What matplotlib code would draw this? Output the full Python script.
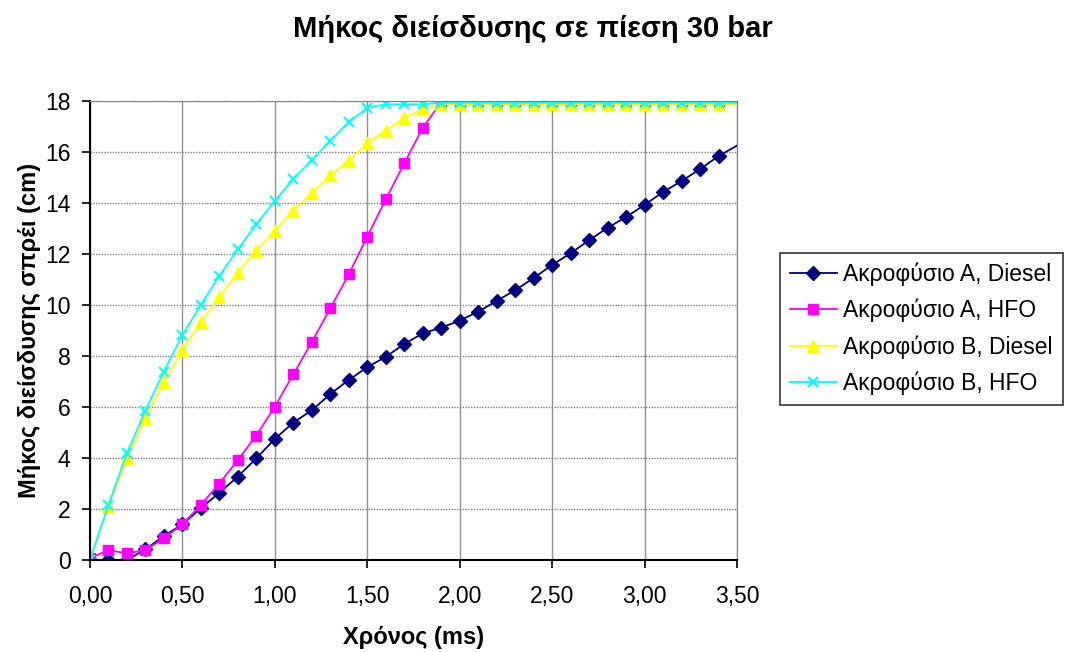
import matplotlib
matplotlib.use("Agg")
import matplotlib.pyplot as plt
from matplotlib.ticker import FuncFormatter

# time (ms), the data runs a little past the axis limit of 3.5
t = [0.0, 0.1, 0.2, 0.3, 0.4, 0.5, 0.6, 0.7, 0.8, 0.9,
     1.0, 1.1, 1.2, 1.3, 1.4, 1.5, 1.6, 1.7, 1.8, 1.9,
     2.0, 2.1, 2.2, 2.3, 2.4, 2.5, 2.6, 2.7, 2.8, 2.9,
     3.0, 3.1, 3.2, 3.3, 3.4, 3.5, 3.6]

a_diesel = [0.0, 0.0, 0.0, 0.42, 0.94, 1.40, 2.03, 2.64, 3.27, 3.99,
            4.75, 5.39, 5.87, 6.51, 7.06, 7.56, 7.97, 8.47, 8.89, 9.11,
            9.39, 9.74, 10.16, 10.58, 11.06, 11.57, 12.03, 12.54, 13.03, 13.45,
            13.93, 14.43, 14.86, 15.33, 15.84, 16.25, 16.65]
a_hfo = [0.07, 0.39, 0.26, 0.39, 0.85, 1.40, 2.16, 3.00, 3.92, 4.88,
         6.01, 7.28, 8.54, 9.87, 11.20, 12.68, 14.14, 15.55, 16.95, 17.95,
         17.97, 17.97, 18.0, 18.0, 18.0, 18.0, 18.0, 18.0, 18.0, 18.0,
         18.0, 18.0, 18.0, 18.0, 18.0, 18.0, 18.0]
b_diesel = [0.0, 2.12, 3.99, 5.56, 6.97, 8.24, 9.32, 10.30, 11.27, 12.13,
            12.91, 13.70, 14.38, 15.08, 15.66, 16.34, 16.84, 17.33, 17.67, 17.88,
            17.88, 17.88, 17.88, 17.88, 17.88, 17.88, 17.88, 17.88, 17.88, 17.88,
            17.88, 17.88, 17.88, 17.88, 17.88, 17.88, 17.88]
b_hfo = [0.0, 2.16, 4.18, 5.86, 7.39, 8.82, 10.0, 11.14, 12.18, 13.16,
         14.08, 14.93, 15.69, 16.44, 17.16, 17.74, 17.87, 17.87, 17.87, 17.93,
         17.93, 17.93, 17.93, 17.93, 17.93, 17.93, 17.93, 17.93, 17.93, 17.93,
         17.93, 17.93, 17.93, 17.93, 17.93, 17.93, 17.93]

labels = ["Ακροφύσιο A, Diesel", "Ακροφύσιο A, HFO",
          "Ακροφύσιο B, Diesel", "Ακροφύσιο B, HFO"]

plt.rcParams['font.family'] = ['Liberation Sans', 'DejaVu Sans']

fig = plt.figure(figsize=(10.66, 6.52), dpi=100)
ax = fig.add_axes([0.0844, 0.1411, 0.607, 0.704])

# markers only up to 3.4 ms, the line carries on to the axis edge
marks = slice(0, 35)
ax.plot(t, a_diesel, color='#000080', marker='D', markersize=7, lw=1.3,
        markevery=marks, label=labels[0])
ax.plot(t, a_hfo, color='#FF00FF', marker='s', markersize=7, lw=1.3,
        markevery=marks, label=labels[1])
ax.plot(t, b_diesel, color='#FFFF00', marker='^', markersize=8, lw=1.3,
        markevery=marks, label=labels[2])
ax.plot(t, b_hfo, color='#00FFFF', marker='x', markersize=7, mew=1.5, lw=1.3,
        markevery=marks, label=labels[3])

ax.set_xlim(0, 3.5)
ax.set_ylim(0, 18)
ax.set_xticks([0, 0.5, 1.0, 1.5, 2.0, 2.5, 3.0, 3.5])
ax.set_yticks(range(0, 19, 2))
ax.xaxis.set_major_formatter(FuncFormatter(lambda v, p: f"{v:.2f}".replace('.', ',')))
ax.tick_params(direction='out', length=6, width=1.2, labelsize=16.5, colors='black')
ax.tick_params(axis='x', pad=12)
ax.tick_params(axis='y', pad=8)

# Excel style grid: dotted horizontal, solid vertical
ax.yaxis.grid(True, color='#808080', linestyle=(0, (1, 1)), lw=1.0)
ax.xaxis.grid(True, color='#909090', linestyle='-', lw=1.0)
ax.set_axisbelow(True)
for side in ['top', 'right']:
    ax.spines[side].set_color('#808080')
for side in ['left', 'bottom']:
    ax.spines[side].set_linewidth(1.5)

ax.set_xlabel("Χρόνος (ms)", fontsize=17, fontweight='bold', labelpad=13)
ax.set_ylabel("Μήκος διείσδυσης σπρέι (cm)", fontsize=17, fontweight='bold', labelpad=3)
fig.text(0.5, 0.955, "Μήκος διείσδυσης σε πίεση 30 bar", ha='center', va='center',
         fontsize=21, fontweight='bold')

leg = fig.legend(loc='upper left', bbox_to_anchor=(0.7317, 0.612), fontsize=16.5,
                 frameon=True, fancybox=False, edgecolor='black', borderpad=0.42,
                 handlelength=2.05, handletextpad=0.3, labelspacing=0.56,
                 borderaxespad=0)
leg.get_frame().set_linewidth(1.2)

fig.savefig("out.png", dpi=100)
